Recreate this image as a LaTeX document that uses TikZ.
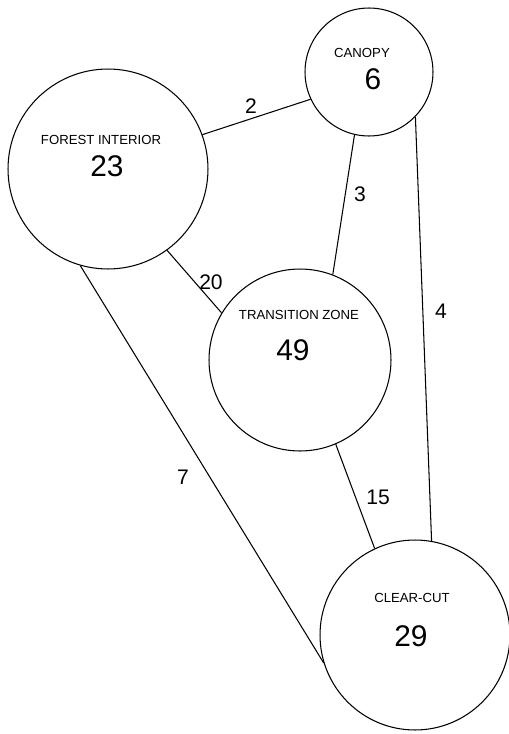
\documentclass[tikz,border=0pt]{standalone}
\usepackage{fontspec}
\setmainfont{Liberation Sans}
\usetikzlibrary{positioning}
\tikzset{
  habitat/.style={circle, draw=black, line width=0.6pt, inner sep=0pt},
  link/.style={line width=0.6pt, color=black},
  hname/.style={font=\fontsize{7.5}{9}\selectfont},
  hcount/.style={font=\fontsize{17}{20}\selectfont},
  wlabel/.style={font=\fontsize{12}{14}\selectfont}
}

\begin{document}
\begin{tikzpicture}[x=0.02cm, y=-0.02cm]
\useasboundingbox (0,0) rectangle (509,734);
% habitats
\node[habitat, minimum size=2.56cm] (CA) at (369,72) {};
\node[habitat, minimum size=4cm] (FI) at (108,169) {};
\node[habitat, minimum size=3.64cm] (TZ) at (300,360) {};
\node[habitat, minimum size=3.8cm] (CC) at (415,635) {};
\node[hname] (CAname) at (362,53) {CANOPY};
\node[hcount] (CAnum) at (373,79) {6};
\node[hname] (FIname) at (101,140) {FOREST INTERIOR};
\node[hcount] (FInum) at (107,166) {23};
\node[hname] (TZname) at (299,315) {TRANSITION ZONE};
\node[hcount] (TZnum) at (293,350) {49};
\node[hname] (CCname) at (412,598) {CLEAR-CUT};
\node[hcount] (CCnum) at (411,636) {29};
% links with their counts
\foreach \from/\to/\wt/\lx/\ly in {FI.20/CA.205/2/251/106, CA.257/TZ.69/3/360/194,
    CA.316/CC.80/4/441/311, FI.306/TZ.149/20/211/282, FI.254/CC.197/7/183/477,
    TZ.293/CC.115/15/378/497} {
  \draw[link] (\from) -- (\to);
  \node[wlabel] (w\wt) at (\lx,\ly) {\wt};
}
\end{tikzpicture}
\end{document}
